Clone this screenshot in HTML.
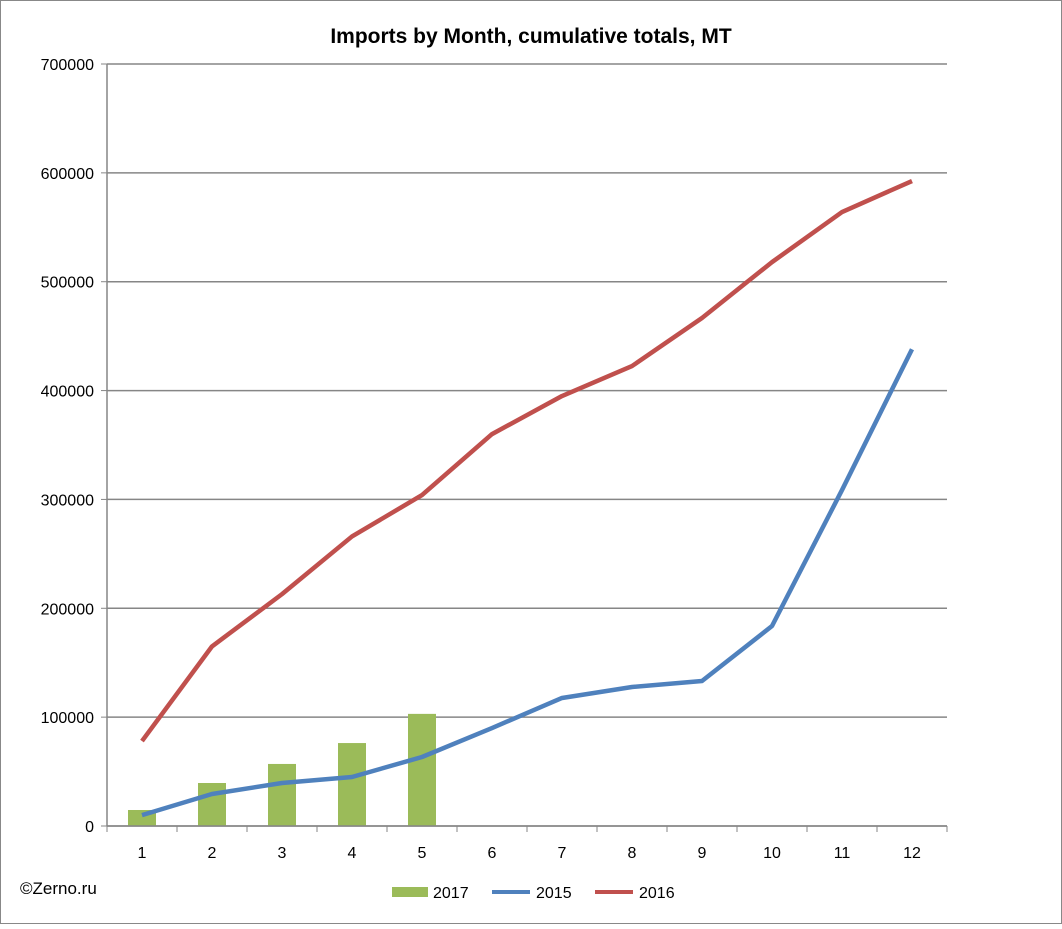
<!DOCTYPE html>
<html><head><meta charset="utf-8"><style>
body{margin:0;background:#fff;font-family:"Liberation Sans",sans-serif}
svg text{font-family:"Liberation Sans",sans-serif}
</style></head><body>
<svg id="chart" width="1062" height="924" xmlns="http://www.w3.org/2000/svg">
<rect x="0.5" y="0.5" width="1061" height="923" fill="#fff" stroke="#888"/>
<text x="531" y="43" text-anchor="middle" font-size="21" font-weight="bold" fill="#000">Imports by Month, cumulative totals, MT</text>
<g id="grid"></g><g id="bars"></g><g id="lines"></g><g id="axes"></g>
<text x="20" y="894" font-size="17" fill="#000">©Zerno.ru</text>
<g>
<rect x="392" y="887" width="36" height="10" fill="#9bbb59"/>
<text x="433" y="898" font-size="16">2017</text>
<line x1="492" y1="892" x2="530" y2="892" stroke="#4f81bd" stroke-width="4"/>
<text x="536" y="898" font-size="16">2015</text>
<line x1="595" y1="892" x2="633" y2="892" stroke="#c0504d" stroke-width="4"/>
<text x="639" y="898" font-size="16">2016</text>
</g>
</svg>
<script>
const categories=[1,2,3,4,5,6,7,8,9,10,11,12];
const s2017=[14700,39500,57000,76200,103000];
const s2015=[10000,29400,39500,45000,63400,90000,117600,127700,133200,183700,308600,438000];
const s2016=[78000,165000,213000,266000,304000,360000,395000,422500,466700,518000,564000,592500];
const yTicks=[0,100000,200000,300000,400000,500000,600000,700000];
const NS="http://www.w3.org/2000/svg";
const L=107,R=947,T=64,B=826,yMax=700000;
const bw=(R-L)/categories.length;
const x=i=>L+bw*(i+0.5);
const y=v=>B-(v/yMax)*(B-T);
function mk(tag,attrs,parent){const e=document.createElementNS(NS,tag);for(const k in attrs)e.setAttribute(k,attrs[k]);document.getElementById(parent).appendChild(e);return e;}
yTicks.forEach(t=>{
 const g=mk('line',{x1:L,x2:R,y1:y(t),y2:y(t),stroke:'#868686','stroke-width':1.5},'grid');
 
 
 const tk=mk('line',{x1:L-6,x2:L,y1:y(t),y2:y(t),stroke:'#868686'},'axes');
 
 
 const lb=mk('text',{x:L-13,y:y(t)+6,'text-anchor':'end','font-size':16},'axes');
 lb.textContent=t;
 
 
});
const ax=mk('line',{x1:L,x2:L,y1:T,y2:B,stroke:'#868686','stroke-width':1.5},'axes');


const xa=mk('line',{x1:L,x2:R,y1:B,y2:B,stroke:'#868686','stroke-width':1.5},'axes');


for(let i=0;i<=categories.length;i++){
 const tk=mk('line',{x1:L+bw*i,x2:L+bw*i,y1:B,y2:B+6,stroke:'#868686'},'axes');
 
 
}
categories.forEach((c,i)=>{
 const lb=mk('text',{x:x(i),y:B+32,'text-anchor':'middle','font-size':16},'axes');
 lb.textContent=c;
 
 
});
s2017.forEach((v,i)=>{
 const r=mk('rect',{x:x(i)-14,y:y(v),width:28,height:B-y(v),fill:'#9bbb59'},'bars');
 
 
});
[[s2015,'#4f81bd','line-2015'],[s2016,'#c0504d','line-2016']].forEach(([d,c,n])=>{
 const p=mk('polyline',{points:d.map((v,i)=>x(i)+','+y(v)).join(' '),fill:'none',stroke:c,'stroke-width':4.5,'stroke-linejoin':'round'},'lines');
 
 
});
</script>
</body></html>
